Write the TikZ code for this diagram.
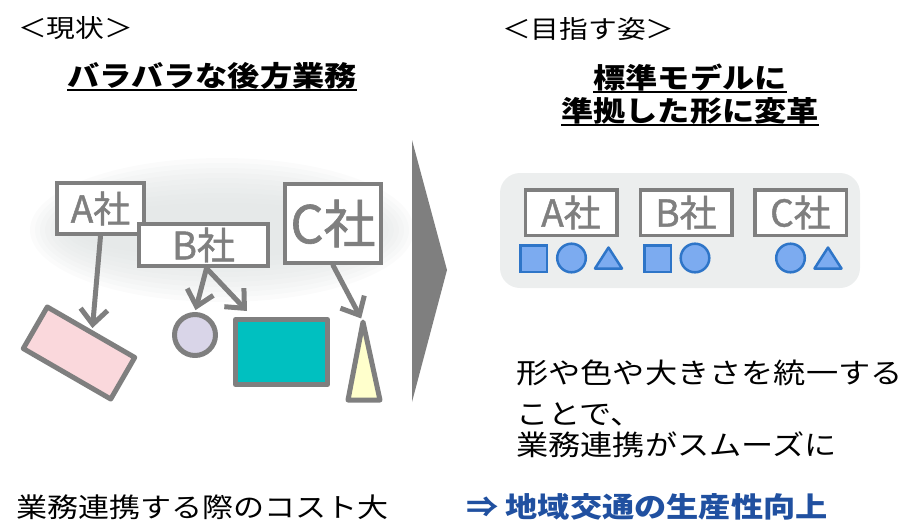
\documentclass[tikz,border=0pt]{standalone}
\usepackage{fontspec}
\usepackage{xcolor}
\setmainfont{Noto Sans CJK JP}
\newfontfamily\widefont[FakeStretch=1.15]{Noto Sans CJK JP}
\newfontfamily\labelfont[FakeBold=1.2]{Noto Sans CJK JP}
\usetikzlibrary{arrows.meta}

\definecolor{linegray}{RGB}{127,127,127}
\definecolor{cloudgray}{RGB}{220,224,224}
\definecolor{panelgray}{RGB}{236,238,238}
\definecolor{pinkfill}{RGB}{250,216,220}
\definecolor{lilacfill}{RGB}{217,213,232}
\definecolor{tealfill}{RGB}{0,192,192}
\definecolor{creamfill}{RGB}{255,255,204}
\definecolor{bluefill}{RGB}{124,171,240}
\definecolor{bluedraw}{RGB}{46,117,200}
\definecolor{goalblue}{RGB}{32,80,160}

\begin{document}
\begin{tikzpicture}[x=1pt, y=-1pt,
    box/.style={draw=linegray, line width=4.5pt, fill=white, text=linegray, inner sep=0pt},
    rbox/.style={box, line width=3.5pt, minimum width=91.5pt, minimum height=45.5pt, font=\labelfont\fontsize{37}{40}\selectfont},
    shapeline/.style={draw=linegray, line width=5pt, line join=round, inner sep=0pt},
    flow/.style={draw=linegray, line width=5pt, line cap=round, -{Straight Barb[length=15pt, width=27pt]}},
    blueshape/.style={draw=bluedraw, fill=bluefill, line width=2.5pt},
    txt/.style={inner sep=0pt, anchor=base west, font=\widefont\fontsize{28}{34}\selectfont},
    title/.style={txt, anchor=base, font=\widefont\bfseries\fontsize{28}{34}\selectfont},
    ulline/.style={line width=1.8pt}]
    \useasboundingbox (0,0) rectangle (919,520);

    % headings
    \node[txt, font=\widefont\fontsize{25}{30}\selectfont] (now) at (18,37) {＜現状＞};
    \node[txt, font=\widefont\fontsize{25}{30}\selectfont] (goal) at (502,38) {＜目指す姿＞};
    \node[title] (nowtitle) at (212,86) {バラバラな後方業務};
    \node[title] (goaltitle1) at (690,88) {標準モデルに};
    \node[title] (goaltitle2) at (690,121) {準拠した形に変革};
    \foreach \t in {nowtitle, goaltitle1, goaltitle2}
        \draw[ulline] ([yshift=-4pt]\t.base west) -- ([yshift=-4pt]\t.base east);

    % current state: blurred cloud
    \foreach \k in {0,...,9}
        \fill[cloudgray, opacity=0.12] (222,230) ellipse ({192pt-5pt*\k} and {72pt-5pt*\k});

    \node[shapeline, fill=pinkfill, rotate=-30, minimum width=101pt, minimum height=48pt] (pinkbox) at (79,353) {};
    \node[shapeline, fill=lilacfill, circle, minimum size=41pt] (dot) at (195,335) {};
    \node[shapeline, fill=tealfill, minimum width=92pt, minimum height=65pt] (teal) at (281.5,352) {};
    \path[shapeline, fill=creamfill] (363,322) -- (380,400) -- (348,400) -- cycle;
    \coordinate (apex) at (363,322);

    \node[box, minimum width=87pt, minimum height=51pt, font=\labelfont\fontsize{37}{40}\selectfont] (A) at (100.5,208.5) {A社};
    \node[box, minimum width=129pt, minimum height=42pt, font=\labelfont\fontsize{38}{40}\selectfont] (B) at (203.5,245) {B社};
    \node[box, minimum width=96pt, minimum height=79pt, font=\labelfont\fontsize{52}{56}\selectfont] (C) at (333,223.5) {C社};

    \draw[flow, shorten >=2pt] (A.south) -- (pinkbox.north);
    \draw[flow, shorten >=2pt] ([xshift=3pt]B.south) -- (dot.north);
    \draw[flow] ([xshift=3pt]B.south) -- ([xshift=14pt, yshift=6pt]teal.north west);
    \draw[flow, shorten >=4pt] (C.south) -- (apex);

    % big arrow
    \fill[linegray] (412,140) -- (447,270) -- (412,402) -- cycle;

    % goal: unified shapes
    \fill[panelgray, rounded corners=20pt] (500,173) rectangle (860,288);
    \node[rbox] (A2) at (571,212.5) {A社};
    \node[rbox] (B2) at (686,212.5) {B社};
    \node[rbox] (C2) at (800.5,212.5) {C社};
    \foreach \x in {533.5, 657.5}
        \path[blueshape] (\x-13.25,245.25) rectangle (\x+13.25,271.75);
    \foreach \x in {571.5, 695, 790.5}
        \path[blueshape] (\x,258) circle (14.3pt);
    \foreach \x in {608.5, 828}
        \path[blueshape, line join=round] (\x,247.5) -- (\x+13.5,268.5) -- (\x-13.5,268.5) -- cycle;

    % texts
    \node[txt] (effect1) at (516,383) {形や色や大きさを統一する};
    \node[txt] (effect2) at (516,424) {ことで、};
    \node[txt] (effect3) at (516,455) {業務連携がスムーズに};
    \node[txt, font=\widefont\fontsize{27}{32}\selectfont] (cost) at (16,517) {業務連携する際のコスト大};
    \node[txt, text=goalblue, font=\widefont\bfseries\fontsize{28}{34}\selectfont] (result) at (466,517) {⇒ 地域交通の生産性向上};
\end{tikzpicture}
\end{document}
